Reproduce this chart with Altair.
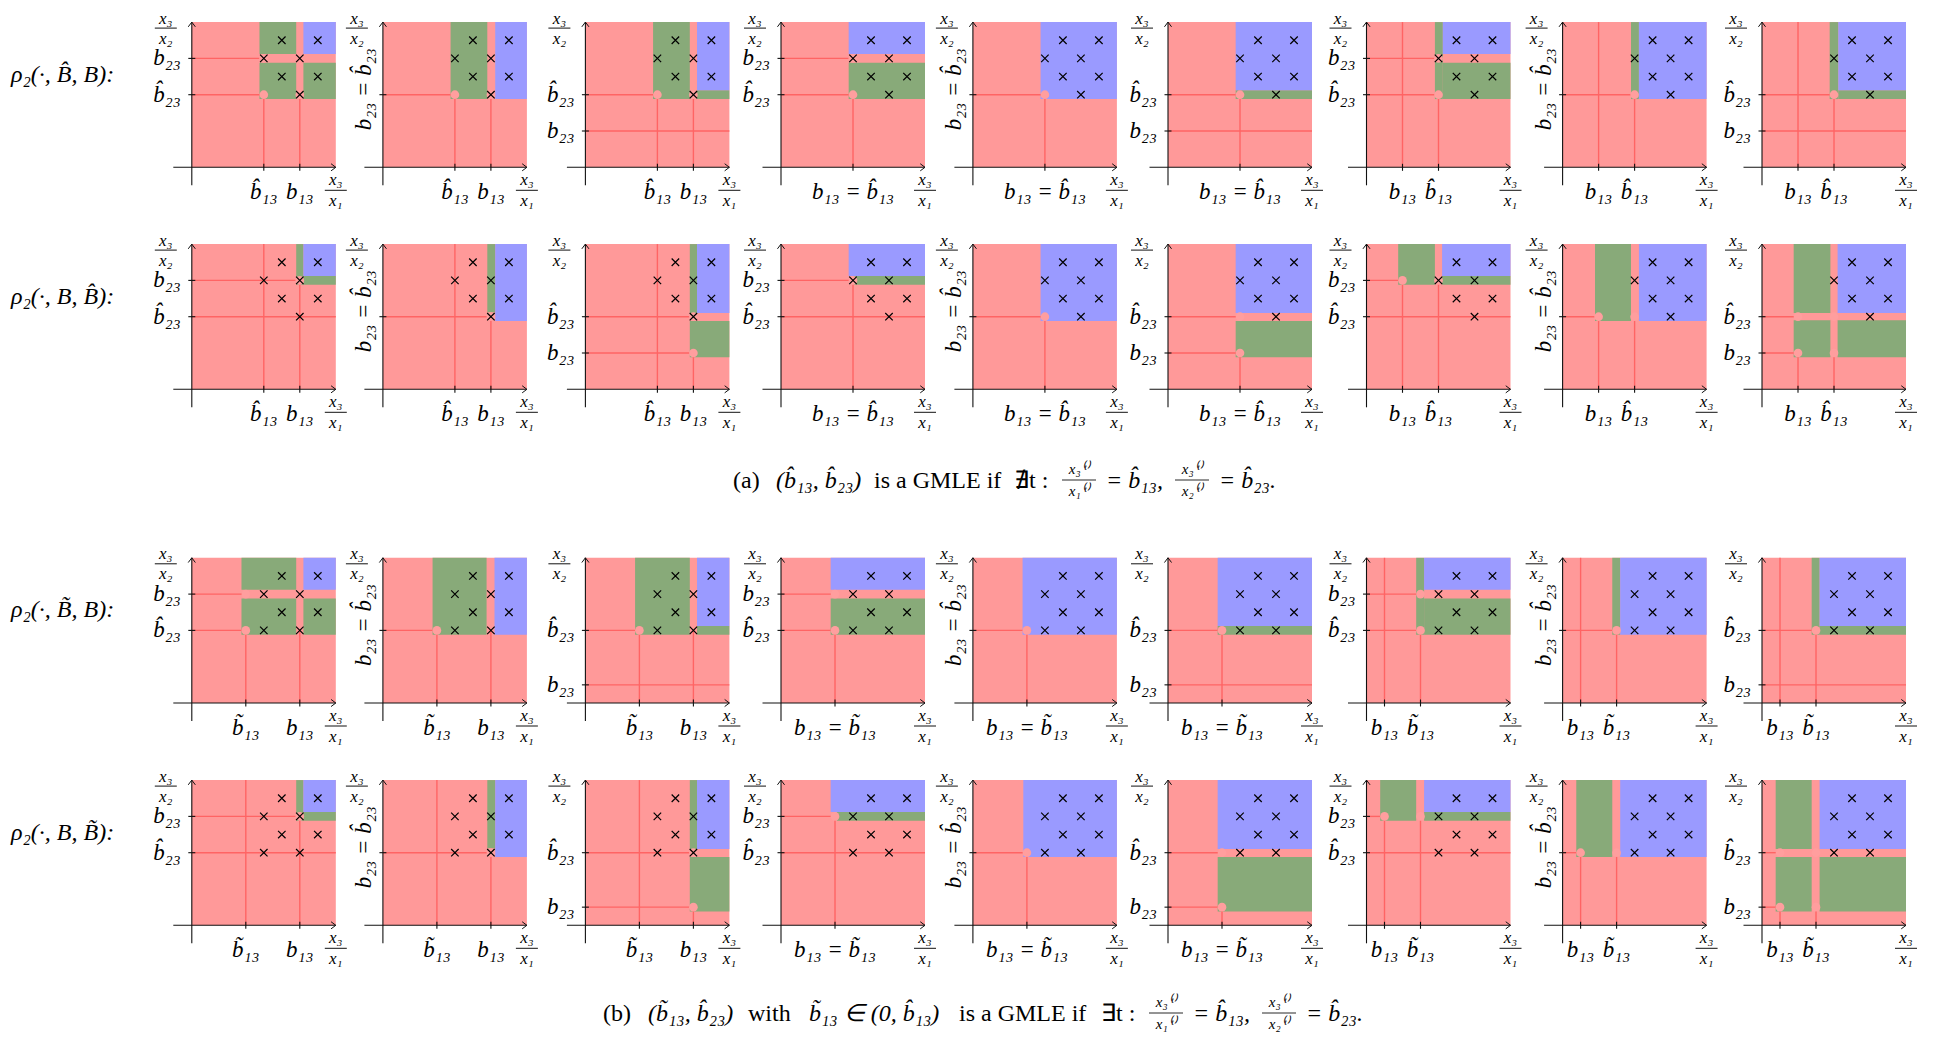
import altair as alt
import pandas as pd

# ---------------- data ----------------
ROW_LABELS = ["ρ₂(·, B̂, B):", "ρ₂(·, B, B̂):", "ρ₂(·, B̃, B):", "ρ₂(·, B, B̃):"]

# sample points (x3/x1, x3/x2) drawn as crosses
POINTS_A = [(2.5, 3.5), (3.5, 3.5), (2, 3), (3, 3), (2.5, 2.5), (3.5, 2.5), (3, 2)]
POINTS_B = [(2.5, 3.5), (3.5, 3.5), (2, 3), (3, 3), (2.5, 2.5), (3.5, 2.5), (3, 2), (2, 2)]

# x-axis ticks per column (value, label)
XTICKS_A = [[(2, "b̂₁₃"), (3, "b₁₃")]] * 3 + [[(2, "b₁₃ = b̂₁₃")]] * 3 + [[(1, "b₁₃"), (2, "b̂₁₃")]] * 3
XTICKS_B = [[(1.5, "b̃₁₃"), (3, "b₁₃")]] * 3 + [[(1.5, "b₁₃ = b̃₁₃")]] * 3 + [[(0.5, "b₁₃"), (1.5, "b̃₁₃")]] * 3

# y-axis ticks per column group (value, label); None = rotated "b23 = b̂23" at 2
YTICKS_A = [[(3, "b₂₃"), (2, "b̂₂₃")], None, [(2, "b̂₂₃"), (1, "b₂₃")]]
YTICKS_B = [[(3, "b₂₃"), (2, "b̂₂₃")], None, [(2, "b̂₂₃"), (0.5, "b₂₃")]]

# coloured regions: (col, kind, u1, u2, v1, v2)
REGIONS = [
    [  # row 1
        (0, "green", 1.88, 2.9, 3.12, 4), (0, "blue", 3.1, 4, 3.12, 4), (0, "green", 1.88, 2.9, 1.88, 2.88), (0, "green", 3.1, 4, 1.88, 2.88),
        (1, "green", 1.88, 2.9, 1.88, 4), (1, "blue", 3.12, 4, 1.88, 4),
        (2, "green", 1.88, 2.9, 1.88, 4), (2, "green", 3.1, 4, 1.88, 2.12), (2, "blue", 3.1, 4, 2.12, 4),
        (3, "blue", 1.88, 4, 3.12, 4), (3, "green", 1.88, 4, 1.88, 2.88),
        (4, "blue", 1.88, 4, 1.88, 4),
        (5, "green", 1.88, 4, 1.88, 2.12), (5, "blue", 1.88, 4, 2.12, 4),
        (6, "green", 1.9, 2.12, 1.88, 4), (6, "green", 2.12, 4, 1.88, 2.88), (6, "blue", 2.12, 4, 3.12, 4),
        (7, "green", 1.9, 2.12, 1.88, 4), (7, "blue", 2.12, 4, 1.88, 4),
        (8, "green", 1.88, 2.12, 1.88, 4), (8, "green", 2.12, 4, 1.88, 2.12), (8, "blue", 2.12, 4, 2.12, 4),
    ],
    [  # row 2
        (0, "green", 2.9, 3.1, 2.88, 4), (0, "green", 3.1, 4, 2.88, 3.12), (0, "blue", 3.1, 4, 3.12, 4),
        (1, "green", 2.9, 3.12, 2.12, 4), (1, "blue", 3.12, 4, 1.88, 4),
        (2, "green", 2.9, 3.1, 2.1, 4), (2, "blue", 3.1, 4, 2.1, 4), (2, "green", 2.9, 4, 0.88, 1.88),
        (3, "blue", 1.88, 4, 3.12, 4), (3, "green", 2.0, 4, 2.88, 3.12),
        (4, "blue", 1.88, 4, 1.88, 4),
        (5, "blue", 1.88, 4, 2.1, 4), (5, "green", 1.88, 4, 0.88, 1.88),
        (6, "green", 0.88, 1.9, 2.88, 4), (6, "blue", 2.1, 4, 3.12, 4), (6, "green", 2.1, 4, 2.88, 3.12),
        (7, "green", 0.9, 1.9, 1.88, 4), (7, "blue", 2.12, 4, 1.88, 4),
        (8, "green", 0.88, 1.9, 2.1, 4), (8, "blue", 2.1, 4, 2.1, 4), (8, "green", 0.88, 1.9, 0.88, 1.9), (8, "green", 2.1, 4, 0.88, 1.9),
    ],
    [  # row 3
        (0, "green", 1.38, 2.9, 3.12, 4), (0, "blue", 3.1, 4, 3.12, 4), (0, "green", 1.38, 2.9, 1.88, 2.88), (0, "green", 3.1, 4, 1.88, 2.88),
        (1, "green", 1.38, 2.88, 1.88, 4), (1, "blue", 3.1, 4, 1.88, 4),
        (2, "green", 1.38, 2.9, 1.88, 4), (2, "green", 3.1, 4, 1.88, 2.12), (2, "blue", 3.1, 4, 2.12, 4),
        (3, "blue", 1.38, 4, 3.12, 4), (3, "green", 1.38, 4, 1.88, 2.88),
        (4, "blue", 1.38, 4, 1.88, 4),
        (5, "green", 1.38, 4, 1.88, 2.12), (5, "blue", 1.38, 4, 2.12, 4),
        (6, "green", 1.38, 1.6, 1.88, 4), (6, "green", 1.6, 4, 1.88, 2.88), (6, "blue", 1.6, 4, 3.12, 4),
        (7, "green", 1.38, 1.6, 1.88, 4), (7, "blue", 1.6, 4, 1.88, 4),
        (8, "green", 1.38, 1.6, 1.88, 4), (8, "green", 1.6, 4, 1.88, 2.12), (8, "blue", 1.6, 4, 2.12, 4),
    ],
    [  # row 4
        (0, "green", 2.9, 3.1, 2.88, 4), (0, "green", 3.1, 4, 2.88, 3.12), (0, "blue", 3.1, 4, 3.12, 4),
        (1, "green", 2.9, 3.12, 2.12, 4), (1, "blue", 3.12, 4, 1.88, 4),
        (2, "green", 2.9, 3.1, 2.1, 4), (2, "blue", 3.1, 4, 2.1, 4), (2, "green", 2.9, 4, 0.38, 1.88),
        (3, "blue", 1.38, 4, 3.12, 4), (3, "green", 1.55, 4, 2.88, 3.12),
        (4, "blue", 1.4, 4, 1.88, 4),
        (5, "blue", 1.38, 4, 2.1, 4), (5, "green", 1.38, 4, 0.38, 1.88),
        (6, "green", 0.38, 1.38, 2.88, 4), (6, "blue", 1.6, 4, 3.12, 4), (6, "green", 1.6, 4, 2.88, 3.12),
        (7, "green", 0.38, 1.38, 1.88, 4), (7, "blue", 1.6, 4, 1.88, 4),
        (8, "green", 0.38, 1.38, 2.1, 4), (8, "blue", 1.6, 4, 2.1, 4), (8, "green", 0.38, 1.38, 0.38, 1.88), (8, "green", 1.6, 4, 0.38, 1.88),
    ],
]

# red guide lines: (col, orientation, position, start, end)
LINES = [
    [(0, "h", 3, 0, 1.88), (0, "h", 2, 0, 2), (0, "v", 2, 0, 2), (0, "v", 3, 0, 2),
     (1, "h", 2, 0, 2), (1, "v", 2, 0, 2), (1, "v", 3, 0, 2),
     (2, "h", 2, 0, 2), (2, "h", 1, 0, 4), (2, "v", 2, 0, 2), (2, "v", 3, 0, 2),
     (3, "h", 3, 0, 1.88), (3, "h", 2, 0, 2), (3, "v", 2, 0, 2),
     (4, "h", 2, 0, 2), (4, "v", 2, 0, 2),
     (5, "h", 2, 0, 2), (5, "h", 1, 0, 4), (5, "v", 2, 0, 2),
     (6, "h", 3, 0, 2), (6, "h", 2, 0, 2), (6, "v", 1, 0, 4), (6, "v", 2, 0, 2),
     (7, "h", 2, 0, 2), (7, "v", 1, 0, 4), (7, "v", 2, 0, 2),
     (8, "h", 2, 0, 2), (8, "h", 1, 0, 4), (8, "v", 1, 0, 4), (8, "v", 2, 0, 2)],
    [(0, "h", 3, 0, 3), (0, "h", 2, 0, 4), (0, "v", 2, 0, 4), (0, "v", 3, 0, 3),
     (1, "h", 2, 0, 3), (1, "v", 2, 0, 4), (1, "v", 3, 0, 2),
     (2, "h", 2, 0, 3), (2, "h", 1, 0, 3), (2, "v", 2, 0, 4), (2, "v", 3, 0, 1),
     (3, "h", 3, 0, 2), (3, "h", 2, 0, 4), (3, "v", 2, 0, 3),
     (4, "h", 2, 0, 2), (4, "v", 2, 0, 2),
     (5, "h", 2, 0, 2), (5, "h", 1, 0, 2), (5, "v", 2, 0, 1),
     (6, "h", 3, 0, 1), (6, "h", 2, 0, 4), (6, "v", 1, 0, 3), (6, "v", 2, 0, 3),
     (7, "h", 2, 0, 1), (7, "v", 1, 0, 2), (7, "v", 2, 0, 2),
     (8, "h", 2, 0, 1), (8, "h", 1, 0, 1), (8, "v", 1, 0, 1), (8, "v", 2, 0, 1)],
    [(0, "h", 3, 0, 1.5), (0, "h", 2, 0, 1.5), (0, "v", 1.5, 0, 2), (0, "v", 3, 0, 2),
     (1, "h", 2, 0, 1.5), (1, "v", 1.5, 0, 2), (1, "v", 3, 0, 2),
     (2, "h", 2, 0, 1.5), (2, "h", 0.5, 0, 4), (2, "v", 1.5, 0, 2), (2, "v", 3, 0, 2),
     (3, "h", 3, 0, 1.5), (3, "h", 2, 0, 1.5), (3, "v", 1.5, 0, 2),
     (4, "h", 2, 0, 1.5), (4, "v", 1.5, 0, 2),
     (5, "h", 2, 0, 1.5), (5, "h", 0.5, 0, 4), (5, "v", 1.5, 0, 2),
     (6, "h", 3, 0, 1.5), (6, "h", 2, 0, 1.5), (6, "v", 0.5, 0, 4), (6, "v", 1.5, 0, 2),
     (7, "h", 2, 0, 1.5), (7, "v", 0.5, 0, 4), (7, "v", 1.5, 0, 2),
     (8, "h", 2, 0, 1.5), (8, "h", 0.5, 0, 4), (8, "v", 0.5, 0, 4), (8, "v", 1.5, 0, 2)],
    [(0, "h", 3, 0, 3), (0, "h", 2, 0, 4), (0, "v", 1.5, 0, 4), (0, "v", 3, 0, 3),
     (1, "h", 2, 0, 3), (1, "v", 1.5, 0, 4), (1, "v", 3, 0, 2),
     (2, "h", 2, 0, 3), (2, "h", 0.5, 0, 3), (2, "v", 1.5, 0, 4), (2, "v", 3, 0, 0.5),
     (3, "h", 3, 0, 1.5), (3, "h", 2, 0, 4), (3, "v", 1.5, 0, 3),
     (4, "h", 2, 0, 1.5), (4, "v", 1.5, 0, 2),
     (5, "h", 2, 0, 1.5), (5, "h", 0.5, 0, 1.5), (5, "v", 1.5, 0, 0.5),
     (6, "h", 3, 0, 0.5), (6, "h", 2, 0, 4), (6, "v", 0.5, 0, 3), (6, "v", 1.5, 0, 3),
     (7, "h", 2, 0, 0.5), (7, "v", 0.5, 0, 2), (7, "v", 1.5, 0, 2),
     (8, "h", 2, 0, 0.5), (8, "h", 0.5, 0, 0.5), (8, "v", 0.5, 0, 0.5), (8, "v", 1.5, 0, 0.5)],
]

# pink boundary dots: (col, u, v)
DOTS = [
    [(0, 2, 2), (0, 2, 3), (0, 3, 2), (1, 2, 2), (1, 3, 2), (2, 2, 2), (2, 3, 2), (3, 2, 2), (3, 2, 3),
     (4, 2, 2), (5, 2, 2), (6, 2, 2), (6, 2, 3), (7, 2, 2), (8, 2, 2)],
    [(0, 3, 3), (1, 3, 2), (2, 3, 2), (2, 3, 1), (3, 2, 3), (4, 2, 2), (5, 2, 2), (5, 2, 1),
     (6, 1, 3), (6, 2, 3), (7, 1, 2), (7, 2, 2), (8, 1, 2), (8, 1, 1), (8, 2, 1), (8, 2, 2)],
    [(0, 1.5, 3), (0, 1.5, 2), (1, 1.5, 2), (2, 1.5, 2), (3, 1.5, 3), (3, 1.5, 2), (4, 1.5, 2),
     (5, 1.5, 2), (6, 1.5, 3), (6, 1.5, 2), (7, 1.5, 2), (8, 1.5, 2)],
    [(0, 3, 3), (1, 3, 2), (2, 3, 2), (2, 3, 0.5), (3, 1.5, 3), (4, 1.5, 2), (5, 1.5, 2), (5, 1.5, 0.5),
     (6, 0.5, 3), (6, 1.5, 3), (7, 0.5, 2), (7, 1.5, 2), (8, 0.5, 2), (8, 0.5, 0.5), (8, 1.5, 0.5), (8, 1.5, 2)],
]

CAPTION_A = [("(a)", "normal"), ("(b̂₁₃, b̂₂₃)", "italic"), ("is a GMLE if", "normal"), ("∄t :", "normal"),
             ("= b̂₁₃,", "italic"), ("= b̂₂₃.", "italic")]
CAPTION_B = [("(b)", "normal"), ("(b̃₁₃, b̂₂₃)", "italic"), ("with", "normal"), ("b̃₁₃ ∈ (0, b̂₁₃)", "italic"),
             ("is a GMLE if", "normal"), ("∃t :", "normal"), ("= b̂₁₃,", "italic"), ("= b̂₂₃.", "italic")]
FRACS = [("x₃⁽ᵗ⁾", "x₁⁽ᵗ⁾"), ("x₃⁽ᵗ⁾", "x₂⁽ᵗ⁾")]

# ---------------- layout (page pixels) ----------------
UX, UY = 36.0, 36.3
OX = [191.8, 382.9, 585.4, 781.0, 972.9, 1168.0, 1366.5, 1562.6, 1762.0]
OY = [167.3, 389.3, 703.0, 925.3]
CAP_Y = [481, 1014]
CAP_A_X = [733, 776, 874, 1014, 1106, 1219]
CAP_B_X = [603, 648, 748, 809, 959, 1101, 1193, 1306]
FRAC_A_X = [1079, 1192]
FRAC_B_X = [1166, 1279]


def gx(c, u):
    return OX[c] + u * UX


def gy(r, v):
    return OY[r] - v * UY


SX = alt.Scale(domain=[8, 1936], nice=False, zero=False)
SY = alt.Scale(domain=[8, 1038], nice=False, zero=False, reverse=True)


def X(f="x"):
    return alt.X(f"{f}:Q", scale=SX, axis=None)


def Y(f="y"):
    return alt.Y(f"{f}:Q", scale=SY, axis=None)


# ---- build tables ----
bg, reg, lines, dots, crosses = [], [], [], [], []
axes, ticks, arrows_r, arrows_u = [], [], [], []
xl, yl, yrot, frac_t, frac_bar = [], [], [], [], []

for r in range(4):
    partA = r < 2
    pts = POINTS_A if partA else POINTS_B
    xt = XTICKS_A if partA else XTICKS_B
    yt = YTICKS_A if partA else YTICKS_B
    for c in range(9):
        bg.append(dict(x=gx(c, 0), x2=gx(c, 4), y=gy(r, 0), y2=gy(r, 4), kind="red"))
        for (u, v) in pts:
            crosses.append(dict(x=gx(c, u), y=gy(r, v)))
        # axes
        axes.append(dict(x=gx(c, 0) - 18.5, x2=gx(c, 4), y=gy(r, 0), y2=gy(r, 0)))
        axes.append(dict(x=gx(c, 0), x2=gx(c, 0), y=gy(r, 0) + 18, y2=gy(r, 4)))
        arrows_r.append(dict(x=gx(c, 4), y=gy(r, 0)))
        arrows_u.append(dict(x=gx(c, 0), y=gy(r, 4)))
        for (u, lab) in xt[c]:
            ticks.append(dict(x=gx(c, u), x2=gx(c, u), y=gy(r, 0) - 3.5, y2=gy(r, 0) + 3.5))
            xl.append(dict(x=gx(c, u), y=gy(r, 0) + 25, t=lab))
        g = yt[c % 3]
        if g is None:
            ticks.append(dict(x=gx(c, 0) - 3.5, x2=gx(c, 0) + 3.5, y=gy(r, 2), y2=gy(r, 2)))
            yrot.append(dict(x=gx(c, 0) - 19, y=gy(r, 2.15), t="b₂₃ = b̂₂₃"))
        else:
            for (v, lab) in g:
                ticks.append(dict(x=gx(c, 0) - 3.5, x2=gx(c, 0) + 3.5, y=gy(r, v), y2=gy(r, v)))
                yl.append(dict(x=gx(c, 0) - 11, y=gy(r, v), t=lab))
        # fraction labels x3/x2 (top-left) and x3/x1 (bottom-right); y is the text baseline
        cx, top = gx(c, 0) - 26, gy(r, 4)
        frac_t.append(dict(x=cx, y=top + 1.5, t="x₃"))
        frac_t.append(dict(x=cx, y=top + 21.5, t="x₂"))
        frac_bar.append(dict(x=cx - 11, x2=cx + 11, y=top + 6, y2=top + 6))
        cx2, ax = gx(c, 4), gy(r, 0)
        frac_t.append(dict(x=cx2, y=ax + 18, t="x₃"))
        frac_t.append(dict(x=cx2, y=ax + 39, t="x₁"))
        frac_bar.append(dict(x=cx2 - 11, x2=cx2 + 11, y=ax + 23, y2=ax + 23))
    for (c, kind, u1, u2, v1, v2) in REGIONS[r]:
        reg.append(dict(x=gx(c, u1), x2=gx(c, u2), y=gy(r, v1), y2=gy(r, v2), kind=kind))
    for (c, o, p, s, e) in LINES[r]:
        if o == "h":
            lines.append(dict(x=gx(c, s), x2=gx(c, e), y=gy(r, p), y2=gy(r, p)))
        else:
            lines.append(dict(x=gx(c, p), x2=gx(c, p), y=gy(r, s), y2=gy(r, e)))
    for (c, u, v) in DOTS[r]:
        dots.append(dict(x=gx(c, u), y=gy(r, v)))

rowlab = [dict(x=11, y=gy(r, 2.55), t=ROW_LABELS[r]) for r in range(4)]

cap_norm, cap_ital, cfrac_t, cfrac_bar = [], [], [], []
for cap, xs, fx, cy in [(CAPTION_A, CAP_A_X, FRAC_A_X, CAP_Y[0]), (CAPTION_B, CAP_B_X, FRAC_B_X, CAP_Y[1])]:
    for (txt, sty), x in zip(cap, xs):
        (cap_ital if sty == "italic" else cap_norm).append(dict(x=x, y=cy, t=txt))
    for (num, den), x in zip(FRACS, fx):
        cfrac_t.append(dict(x=x, y=cy - 12, t=num))
        cfrac_t.append(dict(x=x, y=cy + 10, t=den))
        cfrac_bar.append(dict(x=x - 17, x2=x + 17, y=cy - 1, y2=cy - 1))

COLORS = alt.Scale(domain=["red", "green", "blue"], range=["#FF9999", "#88AA79", "#9A9AFF"])


def rects(df):
    return alt.Chart(pd.DataFrame(df)).mark_rect(strokeWidth=0).encode(
        x=X(), x2="x2:Q", y=Y(), y2="y2:Q", color=alt.Color("kind:N", scale=COLORS, legend=None))


def rules(df, color, width):
    return alt.Chart(pd.DataFrame(df)).mark_rule(color=color, strokeWidth=width).encode(
        x=X(), x2="x2:Q", y=Y(), y2="y2:Q")


def texts(df, **kw):
    base = dict(font="Liberation Serif", color="black", baseline="middle")
    base.update(kw)
    return alt.Chart(pd.DataFrame(df)).mark_text(**base).encode(x=X(), y=Y(), text="t:N")


def points(df, **kw):
    return alt.Chart(pd.DataFrame(df)).mark_point(**kw).encode(x=X(), y=Y())


layers = [
    rects(bg),
    rects(reg),
    rules(lines, "#FF6464", 1.4),
    alt.Chart(pd.DataFrame(dots)).mark_circle(size=75, color="#FF9E9E", opacity=1).encode(x=X(), y=Y()),
    points(crosses, shape="M-1,-1L1,1M-1,1L1,-1", size=56, filled=False, color="black", strokeWidth=1.2, opacity=1),
    rules(axes, "#111111", 1.1),
    rules(ticks, "#111111", 1.1),
    points(arrows_r, shape="M-1,-0.75L0,0L-1,0.75", size=90, filled=False, color="#111111", strokeWidth=1, opacity=1),
    points(arrows_u, shape="M-0.75,1L0,0L0.75,1", size=90, filled=False, color="#111111", strokeWidth=1, opacity=1),
    texts(xl, fontSize=23, fontStyle="italic", align="center"),
    texts(yl, fontSize=23, fontStyle="italic", align="right"),
    texts(yrot, fontSize=23, fontStyle="italic", align="center", angle=270),
    texts(frac_t, fontSize=17, fontStyle="italic", align="center", baseline="alphabetic"),
    rules(frac_bar, "#111111", 1),
    texts(rowlab, fontSize=24, fontStyle="italic", align="left"),
    texts(cap_norm, fontSize=24, align="left"),
    texts(cap_ital, fontSize=24, fontStyle="italic", align="left"),
    texts(cfrac_t, fontSize=15, fontStyle="italic", align="center"),
    rules(cfrac_bar, "#111111", 0.9),
]

chart = alt.layer(*layers).properties(
    width=1928, height=1030, padding=0,
    autosize=alt.AutoSizeParams(type="none"),
).configure_view(stroke=None)

chart.save("out.html", embed_options={"renderer": "svg", "actions": False})
